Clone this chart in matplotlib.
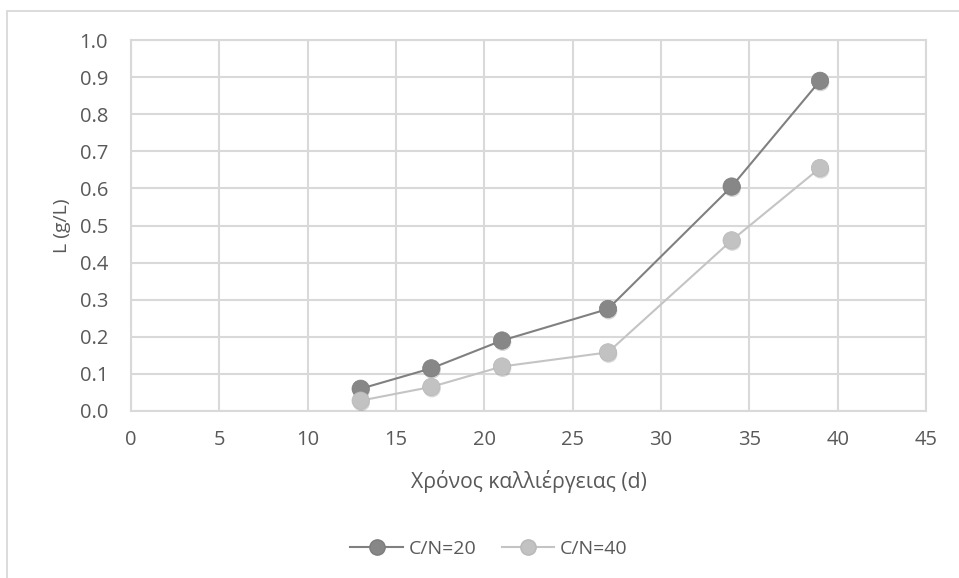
import matplotlib.pyplot as plt
import matplotlib.patheffects as pe
from matplotlib.patches import Rectangle

# Χρόνος καλλιέργειας (d) και συγκέντρωση L (g/L)
days = [13, 17, 21, 27, 34, 39]
cn20 = [0.06, 0.115, 0.19, 0.275, 0.605, 0.89]
cn40 = [0.028, 0.065, 0.12, 0.158, 0.46, 0.655]

series_names = ["C/N=20", "C/N=40"]
xticks = list(range(0, 50, 5))
yticks = [i / 10 for i in range(0, 11)]

plt.rcParams['font.family'] = ['Open Sans', 'DejaVu Sans']
txt = '#595959'
grid_c = '#d9d9d9'

W, H = 959, 578
fig = plt.figure(figsize=(W / 100, H / 100), dpi=100)
ax = fig.add_axes([131 / W, 1 - 411 / H, (926 - 131) / W, (411 - 40) / H])

# outer chart border
fig.patches.append(Rectangle((7 / W, -0.05), 1.1, 1 - 11 / H + 0.05,
                             transform=fig.transFigure, fill=False,
                             edgecolor=grid_c, lw=1.3))

shadow = [pe.SimplePatchShadow(offset=(0.5, -1.3), shadow_rgbFace='#000000', alpha=0.16), pe.Normal()]

styles = [dict(line='#808080', face='#878787', edge='#7d7d7d'),
          dict(line='#c4c4c4', face='#c2c2c2', edge='#b8b8b8')]

for vals, st in zip([cn20, cn40], styles):
    ax.plot(days, vals, '-', color=st['line'], lw=1.5, zorder=3)
    mk, = ax.plot(days, vals, 'o', ls='none', ms=12.5,
                  markerfacecolor=st['face'], markeredgecolor=st['edge'], mew=0.5, zorder=4)
    mk.set_path_effects(shadow)

ax.set_xlim(0, 45)
ax.set_ylim(0, 1.0)
ax.set_xticks(xticks)
ax.set_yticks(yticks)
ax.set_yticklabels([f"{v:.1f}" for v in yticks])
ax.grid(True, color=grid_c, lw=1.5)
ax.set_axisbelow(True)
for s in ax.spines.values():
    s.set_color(grid_c)
    s.set_linewidth(1.5)
ax.tick_params(length=0, labelsize=14.5, labelcolor=txt)
ax.tick_params(axis='x', pad=14)
ax.tick_params(axis='y', pad=16.5)

ax.set_xlabel("Χρόνος καλλιέργειας (d)", fontsize=15.2, color=txt, labelpad=14)
ax.set_ylabel("L (g/L)", fontsize=14, color=txt, labelpad=6)

leg_lines = [plt.Line2D([], [], color=st['line'], lw=1.5, marker='o', ms=11,
                        markerfacecolor=st['face'], markeredgecolor=st['edge'])
             for st in styles]
fig.legend(leg_lines, series_names, loc='center', bbox_to_anchor=(489 / W, 1 - 549 / H),
           ncol=2, frameon=False, fontsize=14, labelcolor=txt,
           handlelength=2.7, columnspacing=1.3, handletextpad=0.3)

fig.savefig('out.png', dpi=100)
